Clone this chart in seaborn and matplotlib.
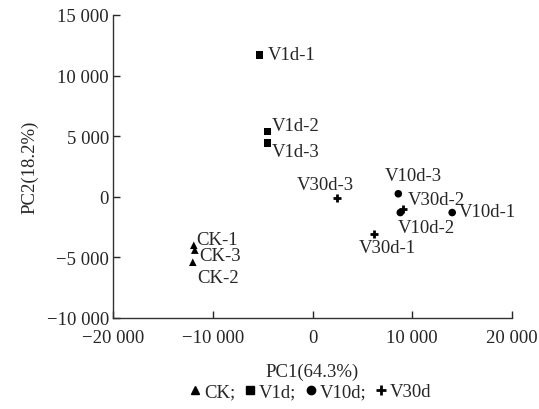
import numpy as np
import pandas as pd
import matplotlib
matplotlib.use('Agg')
import matplotlib.pyplot as plt
import seaborn as sns
from matplotlib.ticker import FuncFormatter
from matplotlib.lines import Line2D

# PCA scores
samples = ['CK-1', 'CK-3', 'CK-2',
           'V1d-1', 'V1d-2', 'V1d-3',
           'V10d-1', 'V10d-2', 'V10d-3',
           'V30d-1', 'V30d-2', 'V30d-3']
groups = ['CK'] * 3 + ['V1d'] * 3 + ['V10d'] * 3 + ['V30d'] * 3
pc1 = [-11900, -11800, -12000,
       -5300, -4500, -4500,
       14000, 8800, 8600,
       6200, 9100, 2500]
pc2 = [-4000, -4400, -5400,
       11700, 5400, 4450,
       -1300, -1300, 250,
       -3050, -1000, -100]
# label offsets (points)
offx = [-1, 0, 0, 3, 0, 0, 2, -5, -13, -14, 0, -32]
offy = [4, -4, -11, 0, 4, -6, 1, -11, 13, -10, 7, 10]

df = pd.DataFrame({'sample': samples, 'group': groups, 'PC1': pc1, 'PC2': pc2})

sns.set_style('ticks')
plt.rcParams['font.family'] = ['Liberation Serif', 'DejaVu Serif']
fs = 13.5

fig = plt.figure(figsize=(5.39, 4.10), dpi=100)
ax = fig.add_axes([0.2096, 0.222, 0.7404, 0.739])

markers = {'CK': '^', 'V1d': 's', 'V10d': 'o'}
filled = df[df.group != 'V30d']
sns.scatterplot(data=filled, x='PC1', y='PC2', style='group', markers=markers,
                color='black', s=30, edgecolor='none', legend=False, ax=ax)
sns.scatterplot(data=df[df.group == 'V30d'], x='PC1', y='PC2', marker='+',
                color='black', s=30, linewidth=2, legend=False, ax=ax)

for i, name in enumerate(samples):
    ax.annotate(name, (pc1[i], pc2[i]), xytext=(offx[i] + 3, offy[i]),
                textcoords='offset points', ha='left', va='center', fontsize=fs)

ax.set_xlim(-20000, 20000)
ax.set_ylim(-10000, 15000)
ax.set_xticks([-20000, -10000, 0, 10000, 20000])
ax.set_yticks([-10000, -5000, 0, 5000, 10000, 15000])


def fmt(v, pos):
    s = f'{abs(int(v)):,}'.replace(',', ' ')
    return ('\u2212' + s) if v < 0 else s


ax.xaxis.set_major_formatter(FuncFormatter(fmt))
ax.yaxis.set_major_formatter(FuncFormatter(fmt))
ax.tick_params(direction='in', length=5, labelsize=fs, width=1, pad=3)
ax.tick_params(axis='x', pad=8)
sns.despine(ax=ax)
for sp in ['left', 'bottom']:
    ax.spines[sp].set_linewidth(1)
    ax.spines[sp].set_color('#333333')

ax.set_xlabel('PC1(64.3%)', fontsize=fs, labelpad=12)
ax.set_ylabel('PC2(18.2%)', fontsize=fs, labelpad=6)

handles = [Line2D([], [], marker='^', color='black', linestyle='none', markersize=6),
           Line2D([], [], marker='s', color='black', linestyle='none', markersize=6),
           Line2D([], [], marker='o', color='black', linestyle='none', markersize=6),
           Line2D([], [], marker='+', color='black', linestyle='none', markersize=7,
                  markeredgewidth=2)]
labels = ['CK;', 'V1d;', 'V10d;', 'V30d']
fig.legend(handles, labels, loc='center', bbox_to_anchor=(0.575, 0.042), ncol=4,
           frameon=False, fontsize=fs, handletextpad=0.1, columnspacing=0.45,
           handlelength=0.7)

fig.savefig('out.png', dpi=100)
